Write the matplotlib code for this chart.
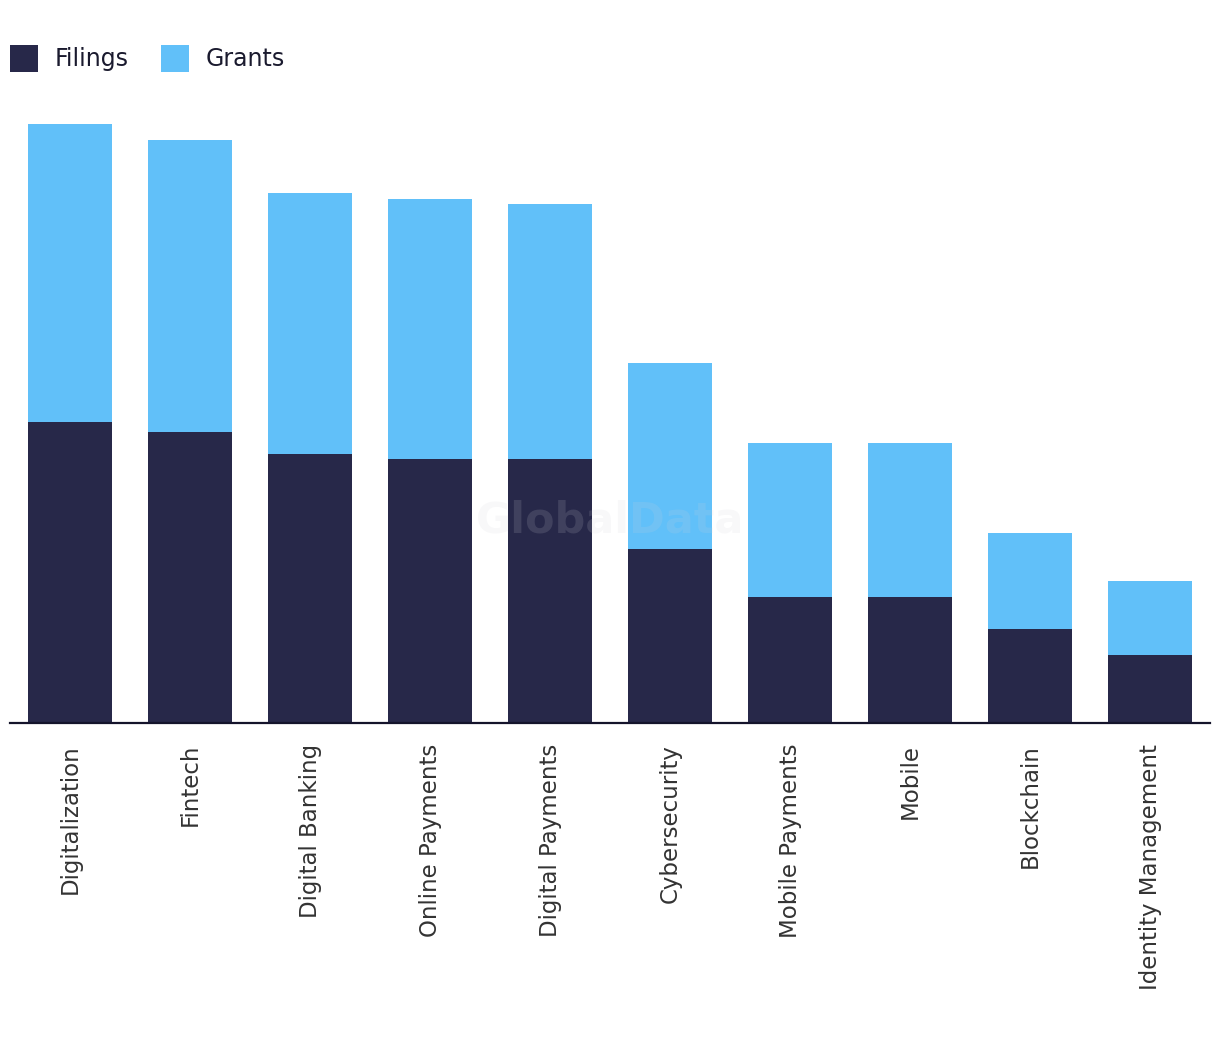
import matplotlib
matplotlib.use("Agg")
import matplotlib.pyplot as plt
import numpy as np

categories = ["Digitalization", "Fintech", "Digital Banking", "Online Payments",
              "Digital Payments", "Cybersecurity", "Mobile Payments", "Mobile",
              "Blockchain", "Identity Management"]
filings = [301, 291, 269, 264, 264, 174, 126, 126, 94, 68]
grants = [298, 292, 261, 260, 255, 186, 154, 154, 96, 74]

FILINGS_COLOR = "#272849"
GRANTS_COLOR = "#61c0f9"

plt.rcParams["font.family"] = ["DejaVu Sans"]

W, H = 1220, 1038
fig = plt.figure(figsize=(W / 100, H / 100), dpi=100)
ax_left, ax_right = 10, 1210
ax_bottom, ax_top = 723, 100
ax = fig.add_axes([ax_left / W, 1 - ax_bottom / H, (ax_right - ax_left) / W, (ax_bottom - ax_top) / H])

x = np.arange(len(categories))
b1 = ax.bar(x, filings, width=0.7, color=FILINGS_COLOR, label="Filings", zorder=2)
b2 = ax.bar(x, grants, width=0.7, bottom=filings, color=GRANTS_COLOR, label="Grants", zorder=2)

ax.set_xlim(-0.5, len(categories) - 0.5)
ax.set_ylim(0, ax_bottom - ax_top)
for s in ["top", "right", "left"]:
    ax.spines[s].set_visible(False)
ax.spines["bottom"].set_color("#14142b")
ax.spines["bottom"].set_linewidth(1.6)
ax.set_yticks([])
ax.set_xticks(x)
ax.set_xticklabels(categories, rotation=90, fontsize=16.5, color="#333333", va="top", ha="center")
ax.tick_params(axis="x", length=0, pad=15)

ax.text(0.5, 0.325, "GlobalData", transform=ax.transAxes, fontsize=31, fontweight="bold",
        color="#d0d0d8", alpha=0.15, ha="center", va="center", zorder=3)

fig.legend(handles=[b1, b2], labels=["Filings", "Grants"], loc="upper left",
           bbox_to_anchor=(10 / W, 1 - 45 / H), ncol=2, frameon=False, fontsize=17,
           handlelength=1.19, handleheight=1.19 / 0.7 * 0.82, handletextpad=0.72, columnspacing=1.35,
           labelcolor="#1a1a2e", borderaxespad=0, borderpad=0)

fig.savefig("out.png", dpi=100, facecolor="white")
